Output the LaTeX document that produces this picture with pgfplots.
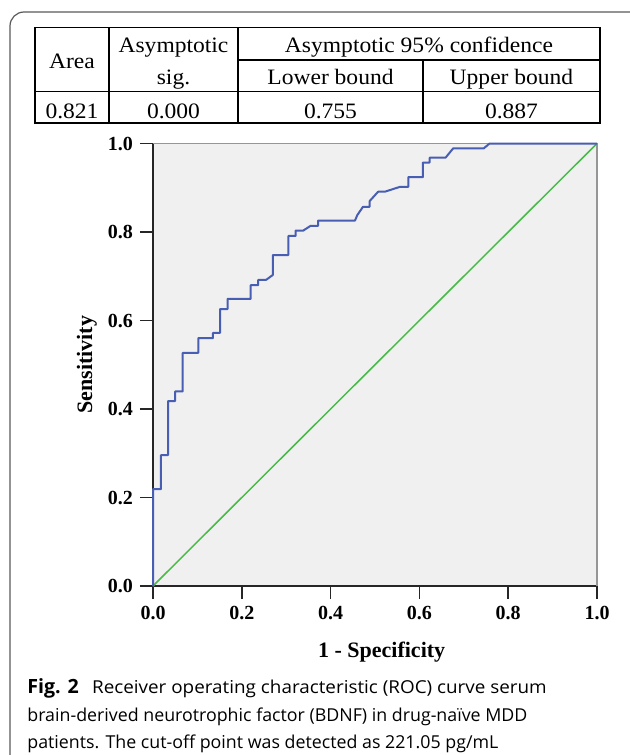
\documentclass[border=0pt]{standalone}
\usepackage{pgfplots}
\pgfplotsset{compat=1.18}
\usepackage{fontspec}
\setmainfont{Liberation Serif}
\newfontfamily\tabfont{Liberation Serif}[FakeStretch=1.07]
\newfontfamily\chartfont{Liberation Serif}
\newfontfamily\capfont{Open Sans}
\definecolor{roccol}{RGB}{72,94,178}
\definecolor{refcol}{RGB}{72,186,72}
\definecolor{bgcol}{RGB}{240,240,240}
\definecolor{framecol}{RGB}{150,150,150}

\begin{document}
\begin{tikzpicture}
% layout in pixel units of the reference (629 x 755)
\begin{scope}[x=0.5pt,y=-0.5pt]
  \path[use as bounding box] (0,0) rectangle (629,755);
  \coordinate (O) at (153,586);
  % figure frame
  \draw[black!65, line width=0.6pt, rounded corners=7pt] (10,800) -- (10,12) -- (700,12);
  % table
  \begin{scope}[line width=0.7pt]
    \draw (35,27.7) rectangle (600,123);
    \draw (35,91.7) -- (600,91.7);
    \draw (238,60) -- (600,60);
    \draw (109,27.7) -- (109,123);
    \draw (238,27.7) -- (238,123);
    \draw (423,60) -- (423,123);
  \end{scope}
  \begin{scope}[every node/.style={inner sep=0pt, anchor=base, font=\tabfont\fontsize{11pt}{13pt}\selectfont}]
    \node at (72,68.3) {Area};
    \node at (173.5,53) {Asymptotic};
    \node at (173.5,84.5) {sig.};
    \node at (419,53) {Asymptotic 95\% confidence};
    \node at (330.5,84.5) {Lower bound};
    \node at (511.5,84.5) {Upper bound};
    \node at (72,118.3) {0.821};
    \node at (173.5,118.3) {0.000};
    \node at (330.5,118.3) {0.755};
    \node at (511.5,118.3) {0.887};
  \end{scope}
  % caption
  \begin{scope}[every node/.style={inner sep=0pt, anchor=base west, font=\capfont\fontsize{8.9pt}{11pt}\selectfont}]
    \node at (27,693) {{\fontsize{9.8pt}{11pt}\selectfont\textbf{Fig. 2}}\hspace{0.75em}\scalebox{1.06}[1]{Receiver operating characteristic (ROC) curve serum}};
    \node at (27,721) {brain-derived neurotrophic factor (BDNF) in drug-naïve MDD};
    \node at (27,748) {patients. The cut-off point was detected as 221.05 pg/mL};
  \end{scope}
\end{scope}

\begin{axis}[
  at={(O)}, anchor=south west,
  scale only axis,
  width=222pt, height=221.25pt,
  xmin=0, xmax=1, ymin=0, ymax=1,
  axis lines=left,
  axis line style={-, line width=0.75pt, black!85},
  axis background/.style={fill=bgcol},
  clip=false,
  tick align=outside,
  major tick length=6.5pt,
  tick style={line width=0.75pt, black!85},
  xtick={0,0.2,...,1.0},
  ytick={0,0.2,...,1.0},
  /pgf/number format/assume math mode=true,
  /pgf/number format/fixed,
  /pgf/number format/fixed zerofill,
  /pgf/number format/precision=1,
  tick label style={font=\chartfont\bfseries\fontsize{10pt}{11pt}\selectfont},
  xlabel={1 - Specificity},
  ylabel={Sensitivity},
  xlabel style={font=\chartfont\bfseries\fontsize{11pt}{13pt}\selectfont,
    at={(axis description cs:0.515,-0.15)}, anchor=center},
  ylabel style={font=\chartfont\bfseries\fontsize{11pt}{13pt}\selectfont,
    at={(axis description cs:-0.149,0.5)}, anchor=center},
]
\draw[framecol, line width=0.6pt] (axis cs:0,1) -- (axis cs:1,1) -- (axis cs:1,0);
\addplot[refcol, line width=0.75pt] coordinates {(0,0) (1,1)};
\addplot[roccol, line width=1pt, line join=round] coordinates {
  (0,0) (0,0.219) (0.018,0.219) (0.018,0.296) (0.034,0.296) (0.034,0.418)
  (0.050,0.418) (0.050,0.440) (0.067,0.440) (0.067,0.527) (0.102,0.527)
  (0.102,0.560) (0.135,0.560) (0.135,0.572) (0.151,0.572) (0.151,0.626)
  (0.168,0.626) (0.168,0.649) (0.220,0.649) (0.220,0.680) (0.237,0.680)
  (0.237,0.692) (0.255,0.692) (0.270,0.703) (0.270,0.748) (0.305,0.748)
  (0.305,0.791) (0.321,0.791) (0.321,0.803) (0.338,0.803) (0.355,0.814)
  (0.372,0.814) (0.372,0.826) (0.455,0.826) (0.460,0.838) (0.473,0.857)
  (0.488,0.857) (0.488,0.870) (0.507,0.891) (0.522,0.891) (0.556,0.902)
  (0.575,0.902) (0.575,0.924) (0.608,0.924) (0.608,0.957) (0.623,0.957)
  (0.623,0.968) (0.659,0.968) (0.676,0.989) (0.745,0.989) (0.758,1.0)
  (1,1)
};
\end{axis}
\end{tikzpicture}
\end{document}
